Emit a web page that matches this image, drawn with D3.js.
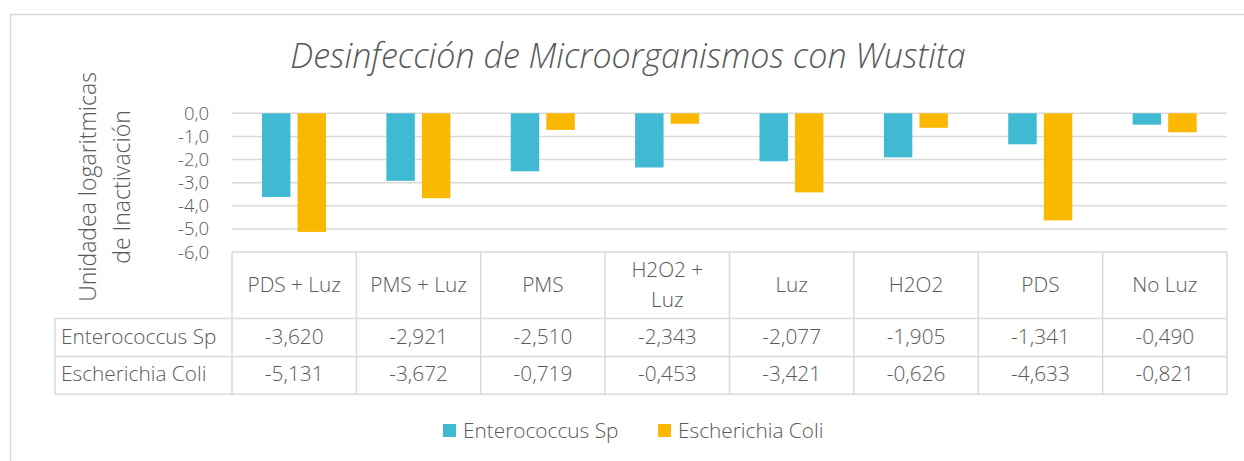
<!DOCTYPE html>
<html>
<head>
<meta charset="utf-8">
<script src="https://cdn.jsdelivr.net/npm/d3@7"></script>
<style>
  body { margin: 0; background: #fff; }
  svg text { font-family: "Open Sans", sans-serif; fill: #595959; font-weight: 300; }
</style>
</head>
<body>
<div id="chart"></div>
<script>
  // data
  const categories = ["PDS + Luz", "PMS + Luz", "PMS", "H2O2 + Luz", "Luz", "H2O2", "PDS", "No Luz"];
  const series = ["Enterococcus Sp", "Escherichia Coli"];
  const enterococcus = [-3.620, -2.921, -2.510, -2.343, -2.077, -1.905, -1.341, -0.490];
  const escherichia = [-5.131, -3.672, -0.719, -0.453, -3.421, -0.626, -4.633, -0.821];
  const yTicks = [0, -1, -2, -3, -4, -5, -6];
  const colors = ["#40b9d2", "#fbb800"];
  const values = [enterococcus, escherichia];

  const width = 1244, height = 461;
  const svg = d3.select("#chart").append("svg")
    .attr("width", width).attr("height", height);

  const grid = "#d9d9d9";
  const fmt = v => d3.format(".3f")(v).replace(".", ",").replace("−", "-");
  const tickFmt = v => d3.format(".1f")(v).replace(".", ",").replace("−", "-");
  const fs = "20.8px";

  // chart frame
  svg.append("rect")
    .attr("x", 10.5).attr("y", 14.5)
    .attr("width", 1260).attr("height", 480)
    .attr("fill", "none").attr("stroke", grid).attr("stroke-width", 1.5);

  // title
  svg.append("text")
    .attr("x", 628).attr("y", 68)
    .attr("text-anchor", "middle")
    .style("font-size", "34px").style("font-style", "italic")
    .text("Desinfección de Microorganismos con Wustita");

  // scales
  const plotLeft = 232, plotRight = 1227;
  const x0 = d3.scaleBand().domain(categories).range([plotLeft, plotRight]);
  const x1 = d3.scaleBand().domain(series).range([30, 94]).paddingInner(0.2);
  const y = d3.scaleLinear().domain([-6, 0]).range([252, 113.3]);

  // gridlines
  svg.append("g").selectAll("line")
    .data(yTicks.filter(d => d > -6))
    .join("line")
    .attr("x1", plotLeft).attr("x2", plotRight)
    .attr("y1", d => y(d)).attr("y2", d => y(d))
    .attr("stroke", grid).attr("stroke-width", 1.5);

  // y axis labels
  svg.append("g").selectAll("text")
    .data(yTicks)
    .join("text")
    .attr("x", 209).attr("y", d => y(d) + 6.5)
    .attr("text-anchor", "end")
    .style("font-size", "18.5px")
    .text(tickFmt);

  // y axis title
  const yTitle = svg.append("text")
    .attr("transform", "translate(0,187) rotate(-90)")
    .attr("text-anchor", "middle")
    .style("font-size", "23px");
  yTitle.append("tspan").attr("x", 0).attr("y", 96).text("Unidadea logaritmicas");
  yTitle.append("tspan").attr("x", 0).attr("y", 130).text("de Inactivación");

  // bars
  series.forEach((s, si) => {
    svg.append("g").selectAll("rect")
      .data(categories.map((c, i) => ({ c, v: values[si][i] })))
      .join("rect")
      .attr("x", d => x0(d.c) + x1(s))
      .attr("y", y(0))
      .attr("width", x1.bandwidth())
      .attr("height", d => y(d.v) - y(0))
      .attr("fill", colors[si]);
  });

  // data table
  const tableTop = 252, rowY = [318.5, 356.5, 394.3];
  const tbl = svg.append("g").attr("stroke", grid).attr("stroke-width", 1.5);
  tbl.append("line").attr("x1", plotLeft).attr("x2", plotRight).attr("y1", tableTop).attr("y2", tableTop);
  rowY.forEach(yy => tbl.append("line").attr("x1", 55).attr("x2", plotRight).attr("y1", yy).attr("y2", yy));
  tbl.append("line").attr("x1", 55).attr("x2", 55).attr("y1", rowY[0]).attr("y2", rowY[2]);
  categories.concat([null]).forEach(c => {
    const xx = c ? x0(c) : plotRight;
    tbl.append("line").attr("x1", xx).attr("x2", xx).attr("y1", tableTop).attr("y2", rowY[2]);
  });

  // header labels
  svg.append("g").selectAll("text")
    .data(categories)
    .join("text")
    .attr("text-anchor", "middle")
    .style("font-size", fs)
    .each(function(d) {
      const t = d3.select(this);
      const cx = x0(d) + x0.bandwidth() / 2;
      if (d === "H2O2 + Luz") {
        t.append("tspan").attr("x", cx).attr("y", 277).text("H2O2 +");
        t.append("tspan").attr("x", cx).attr("y", 307).text("Luz");
      } else {
        t.attr("x", cx).attr("y", 292).text(d);
      }
    });

  // rows
  const rowBase = [343.5, 381];
  series.forEach((s, si) => {
    svg.append("text").attr("x", 61).attr("y", rowBase[si])
      .style("font-size", fs).text(s);
    svg.append("g").selectAll("text")
      .data(values[si])
      .join("text")
      .attr("x", (d, i) => x0(categories[i]) + x0.bandwidth() / 2)
      .attr("y", rowBase[si])
      .attr("text-anchor", "middle")
      .style("font-size", fs)
      .text(fmt);
  });

  // legend
  const legendX = [443, 658];
  const legend = svg.append("g");
  series.forEach((s, si) => {
    legend.append("rect")
      .attr("x", legendX[si]).attr("y", 424)
      .attr("width", 13).attr("height", 13)
      .attr("fill", colors[si]);
    legend.append("text")
      .attr("x", legendX[si] + 20).attr("y", 438)
      .style("font-size", fs)
      .text(s);
  });
</script>
</body>
</html>
